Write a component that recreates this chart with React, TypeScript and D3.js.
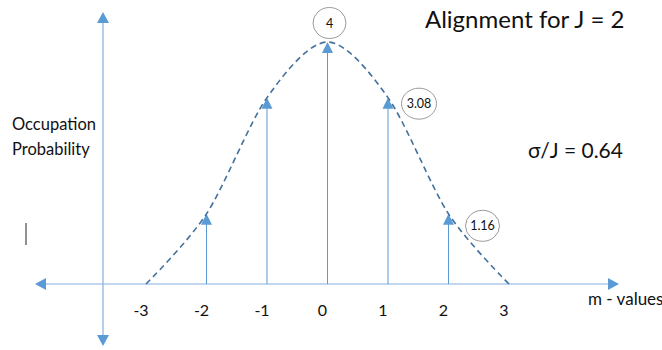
import React from "react";
import * as d3 from "d3";

// m values and occupation weights for J = 2
const mValues = [-3, -2, -1, 0, 1, 2, 3];
const occupation = [0, 1.16, 3.08, 4, 3.08, 1.16, 0];
const stemM = [-2, -1, 0, 1, 2];
const tickLabels = ["-3", "-2", "-1", "0", "1", "2", "3"];
const labeledM = [0, 1, 2];
const valueLabels = ["4", "3.08", "1.16"];

const W = 662;
const H = 350;
const FONT = "Lato, 'Open Sans', sans-serif";
const AXIS = "#86afdc";
const ARROW = "#5b9bd5";
const CURVE = "#41719c";

export default function App() {
  const x = d3.scaleLinear().domain([-3, 3]).range([146, 509]);
  const y = d3.scaleLinear().domain([0, 4]).range([284, 42]);
  const baseY = y(0);
  const vAxisX = 103;

  const line = d3
    .line<number>()
    .x((_, i) => x(mValues[i]))
    .y((d) => y(d))
    .curve(d3.curveCardinal.tension(0.1));

  const valueOf = (m: number) => occupation[mValues.indexOf(m)];

  const tri = (cx: number, cy: number, dir: "up" | "down" | "left" | "right", s = 6) => {
    const l = 11;
    switch (dir) {
      case "up":
        return `M${cx},${cy} L${cx - s},${cy + l} L${cx + s},${cy + l} Z`;
      case "down":
        return `M${cx},${cy} L${cx - s},${cy - l} L${cx + s},${cy - l} Z`;
      case "left":
        return `M${cx},${cy} L${cx + l},${cy - s} L${cx + l},${cy + s} Z`;
      default:
        return `M${cx},${cy} L${cx - l},${cy - s} L${cx - l},${cy + s} Z`;
    }
  };

  const bubbles = [
    { rx: 16.5, ry: 15.5, dx: 2, dy: -19 },
    { rx: 17.5, ry: 15.5, dx: 31, dy: 6 },
    { rx: 17, ry: 15.5, dx: 34, dy: 12 },
  ];

  return (
    <svg width={W} height={H} style={{ display: "block", position: "absolute", left: 0, top: 0, background: "#fff" }}>
      {/* horizontal axis */}
      <line x1={40} x2={612} y1={baseY} y2={baseY} stroke={AXIS} strokeWidth={1.2} />
      <path d={tri(35, baseY, "left")} fill={ARROW} />
      <path d={tri(619, baseY, "right")} fill={ARROW} />
      {/* vertical axis */}
      <line x1={vAxisX} x2={vAxisX} y1={18} y2={340} stroke={AXIS} strokeWidth={1.2} />
      <path d={tri(vAxisX, 12, "up")} fill={ARROW} />
      <path d={tri(vAxisX, 346, "down")} fill={ARROW} />

      {/* stems */}
      {stemM.map((m) => (
        <g key={m}>
          <line x1={x(m)} x2={x(m)} y1={baseY} y2={y(valueOf(m)) + 8} stroke={ARROW} strokeWidth={1} />
          <path d={tri(x(m), y(valueOf(m)), "up", 5.5)} fill={ARROW} />
        </g>
      ))}

      {/* envelope */}
      <path d={line(occupation) ?? ""} fill="none" stroke={CURVE} strokeWidth={1.6} strokeDasharray="6 4" />

      {/* tick labels */}
      {mValues.map((m, i) => (
        <text key={m} x={x(m) - 5} y={316} textAnchor="middle" fontFamily={FONT} fontSize={16} fill="#111">
          {tickLabels[i]}
        </text>
      ))}

      {/* value bubbles */}
      {labeledM.map((m, i) => {
        const b = bubbles[i];
        const cx = x(m) + b.dx;
        const cy = y(valueOf(m)) + b.dy;
        return (
          <g key={m}>
            <ellipse cx={cx} cy={cy} rx={b.rx} ry={b.ry} fill="#fff" stroke="#9a9a9a" strokeWidth={1} />
            <text x={cx} y={cy + 4.5} textAnchor="middle" fontFamily={FONT} fontSize={12.5} fill="#111">
              {valueLabels[i]}
            </text>
          </g>
        );
      })}

      {/* texts */}
      <text x={425} y={28} fontFamily={FONT} fontSize={24} fill="#111">Alignment for J = 2</text>
      <text x={528} y={158} fontFamily={FONT} fontSize={21} fill="#111">σ/J = 0.64</text>
      <text x={12} y={130} fontFamily={FONT} fontSize={16.5} fill="#111">Occupation</text>
      <text x={12} y={155} fontFamily={FONT} fontSize={16.5} fill="#111">Probability</text>
      <text x={588} y={305} fontFamily={FONT} fontSize={17} fill="#111">m - values</text>
      <line x1={26} x2={26} y1={223} y2={245} stroke="#222" strokeWidth={1} />
    </svg>
  );
}
